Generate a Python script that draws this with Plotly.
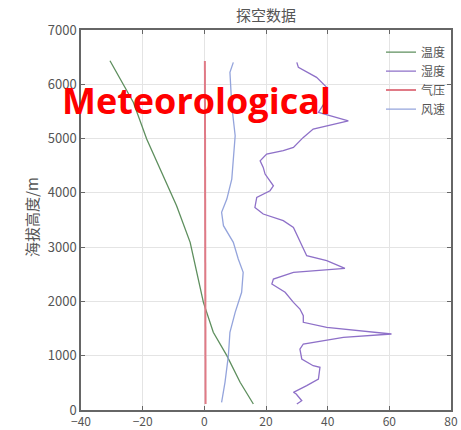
import plotly.graph_objects as go

# ---- data ----
temp_h = [110, 510, 1001, 1431, 1983, 2413, 3088, 3763, 4438, 4991, 5666, 6433]
temp = [15.9, 11.6, 7.3, 2.9, -0.3, -2.0, -4.6, -9.0, -14.4, -18.7, -23.0, -30.6]

hum_h = [110, 171, 294, 326, 448, 571, 786, 816, 940, 1123, 1216, 1339, 1400, 1523,
         1615, 1737, 1860, 1983, 2168, 2229, 2321, 2413, 2536, 2610, 2750, 2842, 3118,
         3364, 3487, 3610, 3732, 3917, 4039, 4131, 4346, 4469, 4591, 4714, 4776, 4838,
         5022, 5175, 5328, 5482, 5666, 5943, 6127, 6311, 6403]
hum = [30.0, 31.6, 29.8, 28.9, 33.2, 37.0, 37.5, 35.3, 31.6, 31.0, 32.1, 45.1, 60.7, 39.7,
       32.1, 32.1, 31.0, 28.9, 26.2, 24.5, 21.9, 22.4, 28.9, 45.6, 39.7, 33.2, 31.0,
       28.9, 25.6, 19.1, 16.4, 17.0, 21.3, 22.4, 19.7, 19.1, 18.1, 20.2, 25.6, 28.9,
       32.1, 35.3, 46.7, 37.0, 39.1, 39.7, 36.4, 30.5, 30.0]

pres_h = [110, 1000, 2000, 3000, 4000, 5000, 6000, 6430]
pres = [0.4, 0.36, 0.32, 0.28, 0.25, 0.22, 0.19, 0.18]

wind_h = [142, 510, 1001, 1431, 1799, 2168, 2536, 2781, 3088, 3395, 3641, 3886, 4254,
          4683, 5052, 5604, 6219, 6403]
wind = [5.6, 6.7, 7.8, 8.3, 10.0, 12.1, 12.6, 11.0, 9.4, 6.2, 5.6, 7.3, 8.9,
        9.4, 10.0, 8.9, 8.3, 9.4]

names = ["温度", "湿度", "气压", "风速"]
colors = ["#5e8f5e", "#8e70c8", "#e07a86", "#94a4dc"]

x_ticks = [-40, -20, 0, 20, 40, 60, 80]
y_ticks = [0, 1000, 2000, 3000, 4000, 5000, 6000, 7000]

cjk = "Noto Sans CJK SC"
grey = "#555555"

fig = go.Figure()
series = [(temp, temp_h), (hum, hum_h), (pres, pres_h), (wind, wind_h)]
for (xs, ys), n, c in zip(series, names, colors):
    fig.add_trace(go.Scatter(x=xs, y=ys, mode="lines", name=n,
                             line=dict(color=c, width=2.0 if n == "气压" else 1.3)))

axis_common = dict(showgrid=True, gridcolor="#e4e4e4", gridwidth=1,
                   showline=True, linecolor="#666666", linewidth=1.5, mirror="ticks",
                   ticks="inside", ticklen=4, tickcolor="#666666", automargin=False,
                   zeroline=False)

fig.update_layout(
    width=461, height=430,
    margin=dict(l=81, r=10, t=30, b=20),
    paper_bgcolor="white", plot_bgcolor="white",
    title=dict(text="探空数据", x=0.5, xref="paper", y=1 - 16 / 430, yanchor="middle",
               font=dict(family=cjk, size=15, color=grey)),
    xaxis=dict(range=[-40, 80], tickvals=x_ticks,
               tickfont=dict(family=cjk, size=12, color=grey), **axis_common),
    yaxis=dict(range=[0, 7000], tickvals=y_ticks,
               tickfont=dict(family=cjk, size=13, color=grey), **axis_common),
    legend=dict(x=1.0, y=0.98, xanchor="right", yanchor="top",
                bgcolor="rgba(255,255,255,0)", font=dict(family=cjk, size=12, color=grey),
                itemwidth=30),
    showlegend=True,
)

fig.add_annotation(text="海拔高度/m", xref="paper", yref="paper", x=(31 - 81) / 370,
                   y=(410 - 217) / 380,
                   xanchor="center", yanchor="middle", textangle=-90, showarrow=False,
                   font=dict(family=cjk, size=15, color=grey))

fig.add_annotation(text="<b>Meteorological</b>", xref="paper", yref="paper",
                   x=(60 - 81) / 370, y=(410 - 100) / 380, xanchor="left", yanchor="middle",
                   showarrow=False, font=dict(family="Open Sans", size=36, color="#ff0000"))

fig.write_html("out.html")
